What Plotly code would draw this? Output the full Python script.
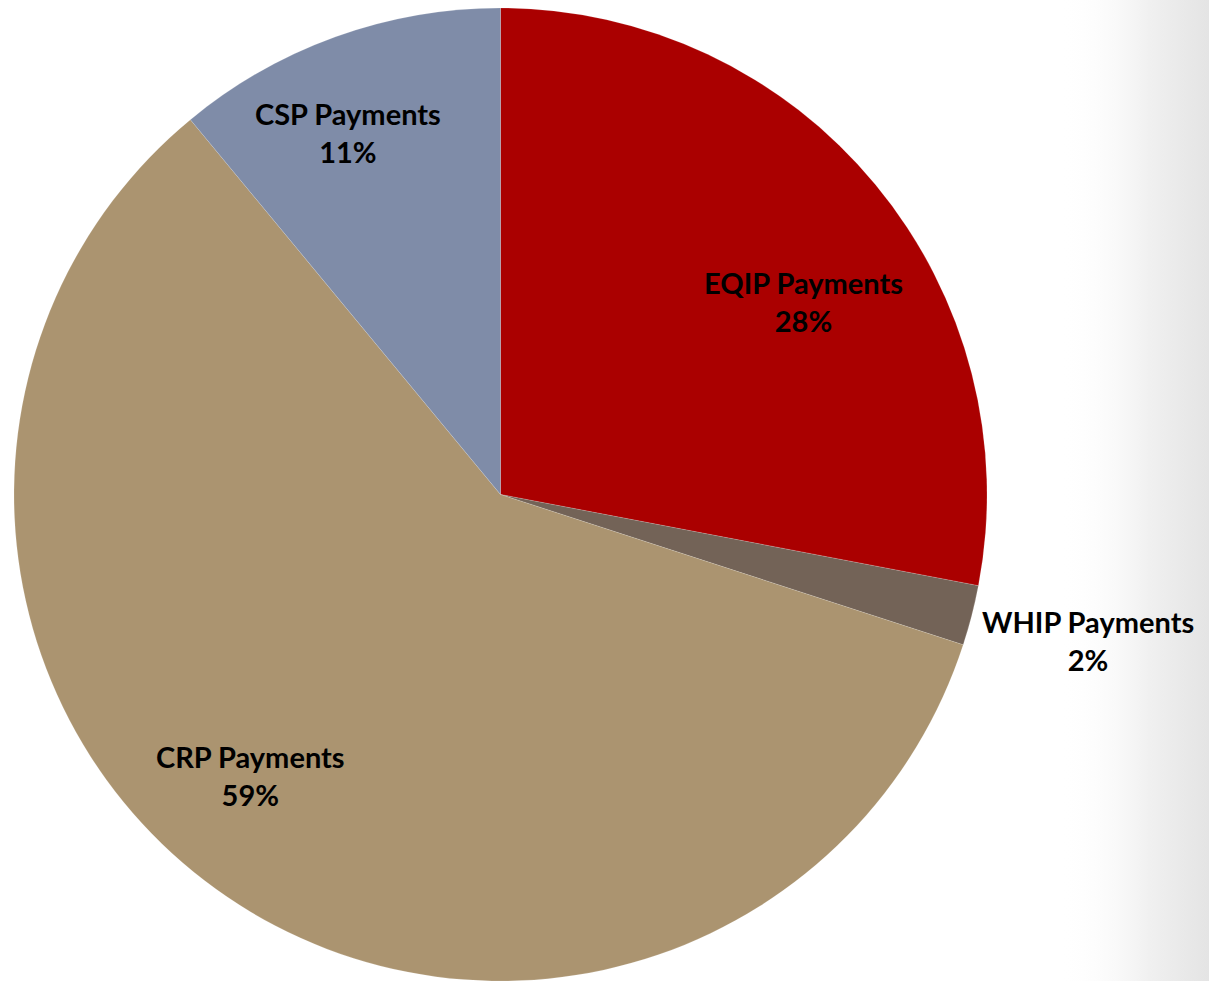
import plotly.graph_objects as go

# Share of conservation program payments
programs = ["EQIP Payments", "WHIP Payments", "CRP Payments", "CSP Payments"]
shares = [28, 2, 59, 11]
colors = ["#AA0000", "#736357", "#AB9470", "#7F8CA8"]

# Label anchor points (pixels from top-left) for each slice's caption
label_x = [804, 1088, 250, 348]
label_y = [302, 640, 775, 133]

W, H = 1209, 981

fig = go.Figure()

# Faint grey shading along the right edge of the slide background
fig.add_trace(go.Scatter(
    x=[1060, W, W, 1060, 1060], y=[0, 0, H, H, 0],
    mode="lines", line=dict(width=0), fill="toself",
    fillgradient=dict(
        type="horizontal",
        colorscale=[[0, "rgba(255,255,255,0)"], [0.6, "rgba(240,240,240,1)"], [1, "rgba(228,228,228,1)"]],
    ),
    hoverinfo="skip", showlegend=False,
))

fig.add_trace(go.Pie(
    labels=programs,
    values=shares,
    sort=False,
    direction="clockwise",
    rotation=0,
    marker=dict(colors=colors, line=dict(color="rgba(255,255,255,0.3)", width=0.5)),
    textinfo="none",
    hoverinfo="label+percent",
    showlegend=False,
    domain=dict(x=[14 / W, 987 / W], y=[0, 973 / H]),
))

total = sum(shares)
annotations = []
for name, v, lx, ly in zip(programs, shares, label_x, label_y):
    annotations.append(dict(
        x=lx / W, y=1 - ly / H, xref="paper", yref="paper",
        text=f"<b>{name}</b><br><b>{round(100 * v / total)}%</b>",
        showarrow=False, xanchor="center", yanchor="middle",
        font=dict(family="Lato, 'Open Sans', sans-serif", size=29, color="#000000"),
        align="center",
    ))

fig.update_layout(
    width=W, height=H,
    margin=dict(l=0, r=0, t=0, b=0),
    paper_bgcolor="#FFFFFF",
    plot_bgcolor="rgba(0,0,0,0)",
    xaxis=dict(range=[0, W], visible=False, fixedrange=True),
    yaxis=dict(range=[0, H], visible=False, fixedrange=True),
    annotations=annotations,
)

fig.write_html("out.html")
